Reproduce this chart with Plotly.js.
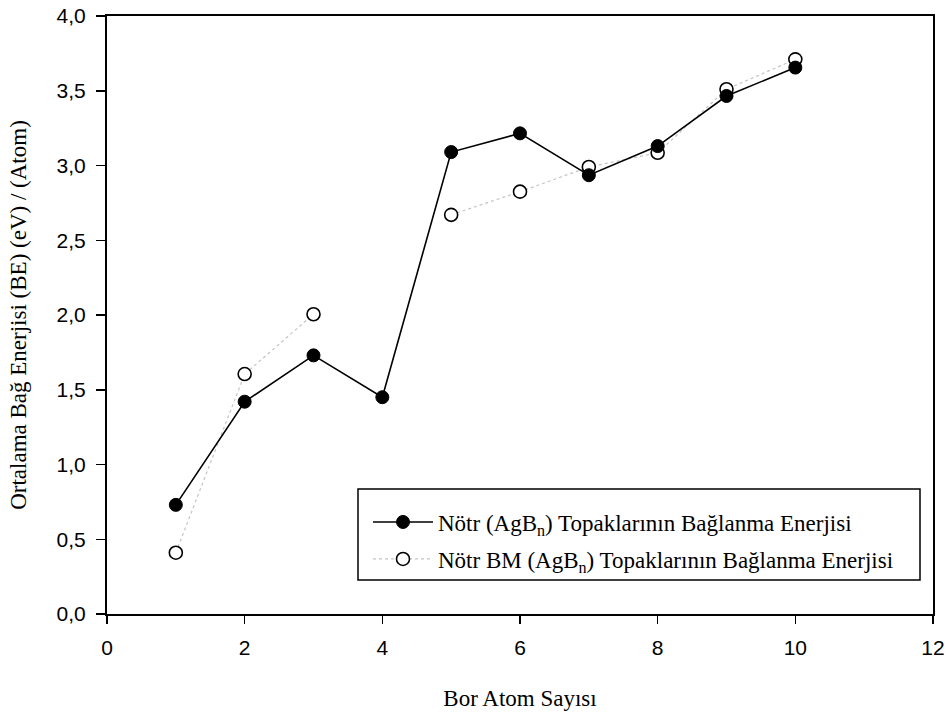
<!DOCTYPE html>
<html>
<head>
<meta charset="utf-8">
<script src="https://cdn.plot.ly/plotly-3.0.1.min.js"></script>
<style>
  html, body { margin: 0; padding: 0; background: #fff; }
  #chart { width: 948px; height: 714px; }
</style>
</head>
<body>
<div id="chart"></div>
<script>
// Number of boron atoms in the AgB_n cluster
const borAtomSayisi = [1, 2, 3, 4, 5, 6, 7, 8, 9, 10];

// Average binding energy per atom (eV) of neutral AgB_n clusters
const notrBE = [0.73, 1.42, 1.73, 1.45, 3.09, 3.215, 2.935, 3.13, 3.465, 3.655];

// Average binding energy per atom (eV), BM set (no value at n = 4)
const notrBmBE = [0.41, 1.605, 2.005, null, 2.67, 2.825, 2.99, 3.085, 3.51, 3.71];

const xTicks = [0, 2, 4, 6, 8, 10, 12];
const yTicks = [0, 0.5, 1.0, 1.5, 2.0, 2.5, 3.0, 3.5, 4.0];

const serif = "'Liberation Serif', 'Times New Roman', Times, serif";
const sans = "'Liberation Sans', Arial, Helvetica, sans-serif";

const traces = [
  {
    x: borAtomSayisi,
    y: notrBmBE,
    type: 'scatter',
    mode: 'lines+markers',
    name: 'Nötr BM (AgB<sub>n</sub>) Topaklarının Bağlanma Enerjisi',
    connectgaps: false,
    line: { color: '#c4c4c4', width: 1.2, dash: 'dot' },
    marker: { symbol: 'circle', size: 13, color: '#ffffff', line: { color: '#000000', width: 1.6 } },
    legend: 'legend2'
  },
  {
    x: borAtomSayisi,
    y: notrBE,
    type: 'scatter',
    mode: 'lines+markers',
    name: 'Nötr (AgB<sub>n</sub>) Topaklarının Bağlanma Enerjisi',
    line: { color: '#000000', width: 1.6 },
    marker: { symbol: 'circle', size: 13, color: '#000000', line: { color: '#000000', width: 1 } },
    legend: 'legend'
  }
];

const legendCommon = {
  xanchor: 'left',
  yanchor: 'middle',
  bgcolor: 'rgba(0,0,0,0)',
  borderwidth: 0,
  itemwidth: 60,
  font: { family: serif, size: 23, color: '#000' },
  itemclick: false,
  itemdoubleclick: false
};

const layout = {
  width: 948,
  height: 714,
  margin: { l: 107, r: 15, t: 16, b: 100 },
  paper_bgcolor: '#ffffff',
  plot_bgcolor: '#ffffff',
  separators: ',.',
  showlegend: true,
  xaxis: {
    range: [0, 12],
    tickvals: xTicks,
    ticks: 'outside',
    ticklen: 8,
    tickwidth: 1.5,
    tickcolor: '#000',
    ticklabelstandoff: 6,
    showgrid: false,
    zeroline: false,
    showline: true,
    linecolor: '#000',
    linewidth: 2,
    mirror: true,
    tickfont: { family: sans, size: 21, color: '#000' },
    title: { text: 'Bor Atom Sayısı', font: { family: serif, size: 23, color: '#000' }, standoff: 32 }
  },
  yaxis: {
    range: [0, 4],
    tickvals: yTicks,
    tickformat: '.1f',
    ticks: 'outside',
    ticklen: 9,
    tickwidth: 1.5,
    tickcolor: '#000',
    ticklabelstandoff: 6,
    showgrid: false,
    zeroline: false,
    showline: true,
    linecolor: '#000',
    linewidth: 2,
    mirror: true,
    automargin: 'left',
    tickfont: { family: sans, size: 21, color: '#000' },
    title: { text: 'Ortalama Bağ Enerjisi (BE) (eV) / (Atom)', font: { family: serif, size: 23, color: '#000' }, standoff: 24 }
  },
  legend: Object.assign({}, legendCommon, { x: (368 - 107) / 826, y: (614 - 522) / 598 }),
  legend2: Object.assign({}, legendCommon, { x: (368 - 107) / 826, y: (614 - 559) / 598 }),
  shapes: [
    {
      type: 'rect',
      xref: 'paper', yref: 'paper',
      x0: (358 - 107) / 826, x1: (920 - 107) / 826,
      y0: (614 - 580) / 598, y1: (614 - 489) / 598,
      line: { color: '#000', width: 1.5 },
      fillcolor: 'rgba(0,0,0,0)',
      layer: 'below'
    }
  ]
};

Plotly.newPlot('chart', traces, layout, { displayModeBar: false, staticPlot: true });
</script>
</body>
</html>
